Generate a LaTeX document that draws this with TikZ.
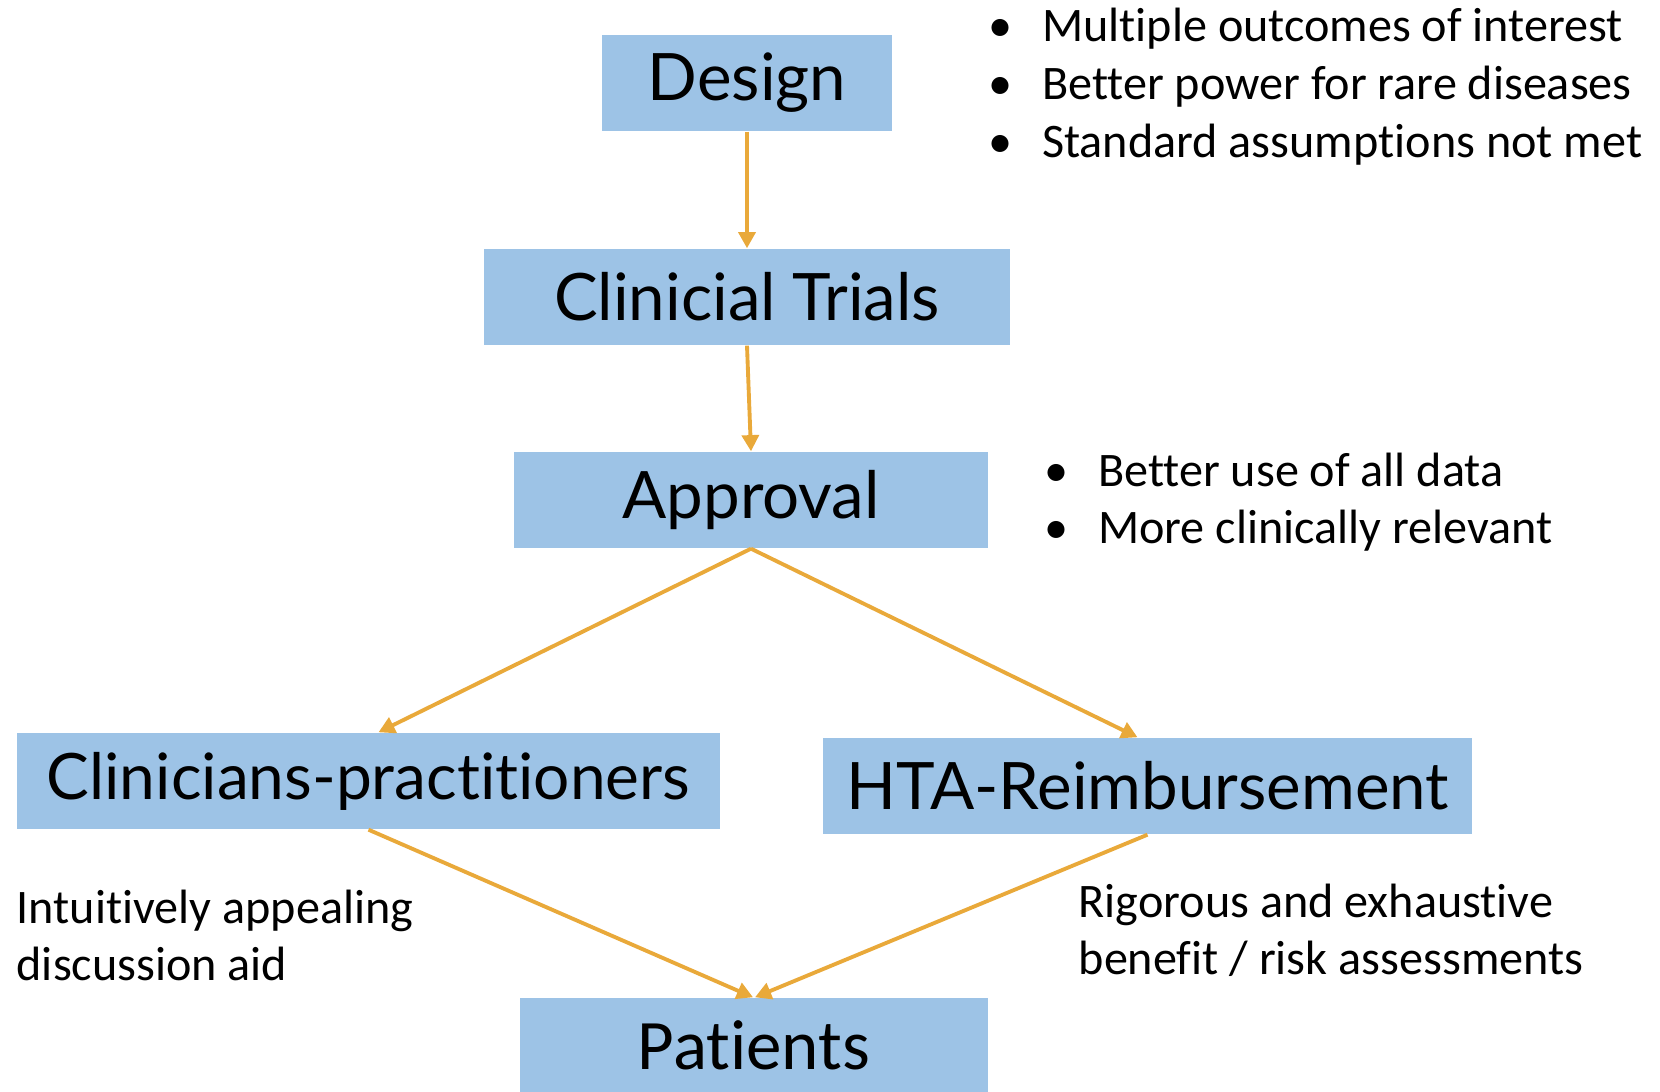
\documentclass[tikz,border=0pt]{standalone}
\usepackage{fontspec}
\setmainfont[Ligatures=NoCommon]{Carlito}
\newfontfamily\boxfont[Ligatures=NoCommon]{Lato}
\usetikzlibrary{arrows.meta}

\definecolor{boxblue}{RGB}{157,195,230}
\definecolor{flowgold}{RGB}{233,169,58}

\tikzset{
  stage/.style={fill=boxblue, minimum height=96*0.01cm, inner sep=0pt,
    font=\boxfont\fontsize{18.6}{21}\selectfont},
  flow/.style={draw=flowgold, line width=1.1pt, -{Triangle[length=4.6pt,width=4.8pt]}},
  note/.style={inner sep=0pt, align=left, font=\fontsize{13.7}{16.4}\selectfont}
}
\newcommand{\bul}{\makebox[15.2pt][l]{\textbullet}}

\begin{document}
\begin{tikzpicture}[x=0.01cm, y=-0.01cm]
\useasboundingbox (0,0) rectangle (1660,1092);

        % the stages
        \node[stage, minimum width=290*0.01cm] (design) at (747,83) {Design};
        \node[stage, minimum width=526*0.01cm] (trials) at (747,297) {Clinicial Trials};
        \node[stage, minimum width=474*0.01cm] (approval) at (751,500) {Approval};
        \node[stage, minimum width=703*0.01cm,
              font=\boxfont\fontsize{18.2}{21}\selectfont] (clin) at (368.5,781) {Clinicians-practitioners};
        \node[stage, minimum width=649*0.01cm] (hta) at (1147.5,786) {HTA-Reimbursement};
        \node[stage, minimum width=468*0.01cm, minimum height=94*0.01cm,
              font=\fontsize{20.2}{23}\selectfont] (patients) at (754,1045) {Patients};

        \draw[flow] (design.south) -- (trials.north);
        \draw[flow] (trials.south) -- (approval.north);
        \draw[flow] (approval.south) -- ([xshift=10*0.01cm]clin.north);
        \draw[flow] (approval.south) -- ([xshift=-10*0.01cm]hta.north);
        \draw[flow] (clin.south) -- ([xshift=-1*0.01cm]patients.north);
        \draw[flow] (hta.south) -- ([xshift=1*0.01cm]patients.north);

        % side notes
        \node[note, anchor=base west] (d1) at (988,42) {\bul Multiple outcomes of interest};
        \node[note, anchor=base west] (d2) at (988,100) {\bul Better power for rare diseases};
        \node[note, anchor=base west] (d3) at (988,158) {\bul Standard assumptions not met};

        \node[note, anchor=base west] (a1) at (1044,487) {\bul Better use of all data};
        \node[note, anchor=base west] (a2) at (1044,544) {\bul More clinically relevant};

        \node[note, anchor=north west] (cnote) at (16,889) {Intuitively appealing\\discussion aid};
        \node[note, anchor=north west] (hnote) at (1078,883) {Rigorous and exhaustive\\benefit / risk assessments};

\end{tikzpicture}
\end{document}
